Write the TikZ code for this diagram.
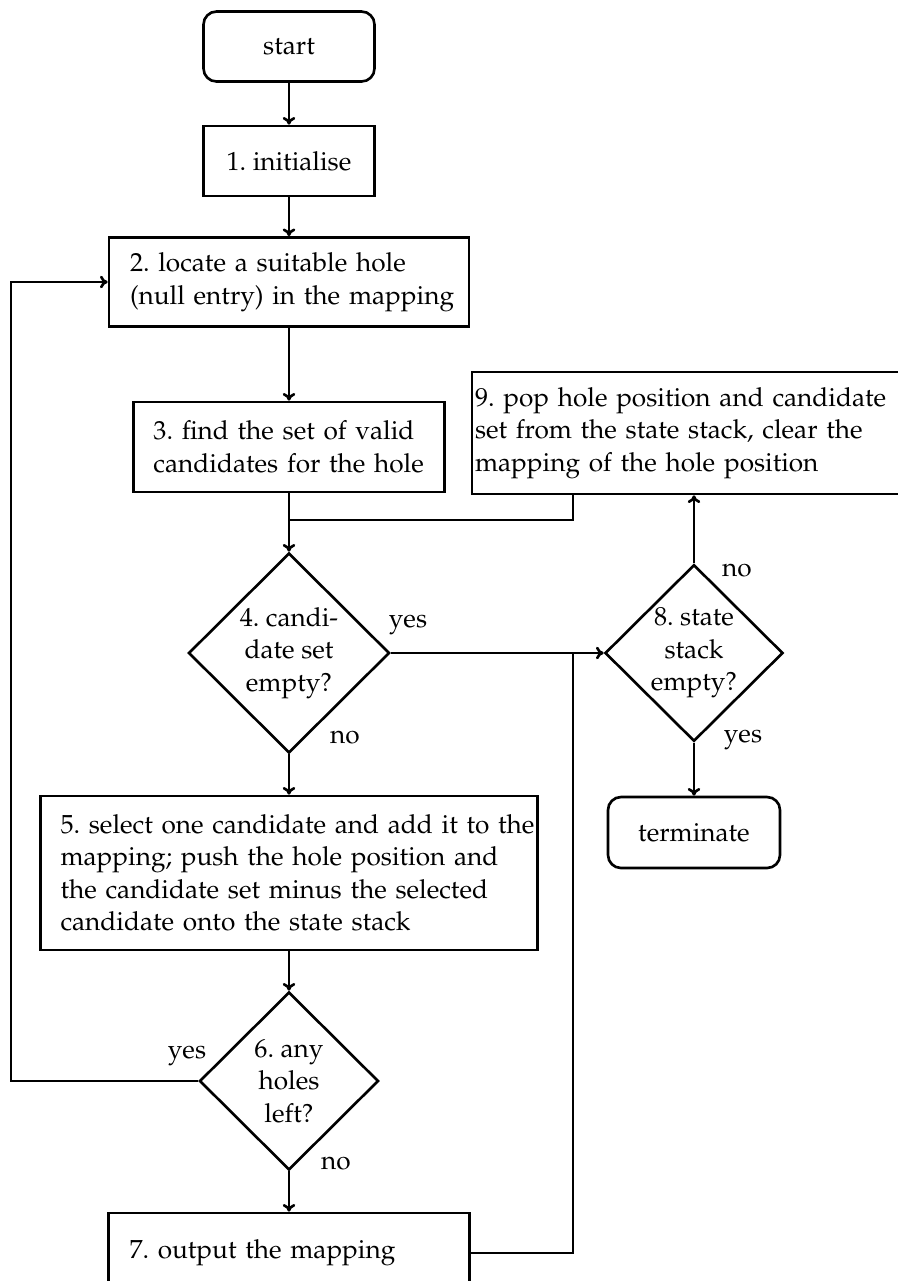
\documentclass[tikz,border=0pt]{standalone}
\usepackage[T1]{fontenc}
\usepackage{mathpazo}
\usetikzlibrary{arrows.meta,shapes.geometric}
\frenchspacing
\tikzset{
  every node/.style={font=\fontsize{7.45}{9.25}\selectfont},
  endbox/.style={rectangle, rounded corners=0.13cm, draw, align=center,
                 minimum width=1.71cm, minimum height=0.70cm},
  box/.style={rectangle, draw, align=left, inner xsep=0.2cm, inner ysep=0pt},
  decision/.style={diamond, draw, align=center, inner sep=0pt},
  arrow/.style={-{To[length=2.2pt,width=3.6pt]}},
  lbl/.style={inner sep=0pt}
}

\begin{document}
\begin{tikzpicture}[line width=0.75pt]
  \useasboundingbox (0,0) rectangle (8.97,-12.81);
  % main column
  \node[endbox] (start) at (2.89,-0.465) {start};
  \node[box, align=center, minimum width=1.71cm, minimum height=0.70cm] (init) at (2.89,-1.61) {1. initialise};
  \node[box, text width=3.18cm, inner xsep=0.21cm, minimum height=0.89cm] (locate) at (2.89,-2.82)
    {2. locate a suitable hole\\\mbox{(null entry) in the mapping}};
  \node[box, text width=2.71cm, minimum height=0.90cm] (find) at (2.89,-4.47)
    {3. find the set of valid\\\mbox{candidates for the hole}};
  \node[decision, minimum width=2.01cm, minimum height=2.00cm] (cempty) at (2.89,-6.53)
    {4. candi-\\date set\\empty?};
  \node[box, text width=4.57cm, minimum height=1.54cm] (select) at (2.89,-8.73)
    {\mbox{5. select one candidate and add it to the}\\mapping; push the hole position and\\the candidate set minus the selected\\candidate onto the state stack};
  \node[decision, minimum width=1.79cm, minimum height=1.78cm] (holes) at (2.89,-10.81)
    {6. any\\holes\\left?};
  \node[box, text width=3.19cm, inner xsep=0.21cm, minimum height=0.80cm] (output) at (2.89,-12.53)
    {7. output the mapping};
  % right column
  \node[box, text width=4.38cm, inner xsep=0.03cm, minimum height=1.22cm] (pop) at (6.94,-4.33)
    {\mbox{9. pop hole position and candidate}\\set from the state stack, clear the\\mapping of the hole position};
  \node[decision, minimum width=1.78cm, minimum height=1.76cm] (sempty) at (6.94,-6.53)
    {8. state\\stack\\empty?};
  \node[endbox, minimum width=1.72cm, minimum height=0.71cm] (term) at (6.94,-8.325) {terminate};
  % branch labels
  \node[lbl] (y4) at (4.08,-6.25) {yes};
  \node[lbl] (n4) at (3.45,-7.37) {no};
  \node[lbl] (n8) at (7.37,-5.70) {no};
  \node[lbl] (y8) at (7.43,-7.40) {yes};
  \node[lbl] (y6) at (1.87,-10.555) {yes};
  \node[lbl] (n6) at (3.36,-11.63) {no};
  % joints
  \coordinate (mx) at (5.73,-6.53);
  \coordinate (jn) at (2.89,-5.20);
  \coordinate (fb) at (0.11,-10.81);

  \draw[arrow] (start) -- (init);
  \draw[arrow] (init) -- (locate);
  \draw[arrow] (locate) -- (find);
  \draw[arrow] (find) -- (cempty);
  \draw (pop.south -| mx) |- (jn);
  \draw[arrow] (cempty) -- (sempty);
  \draw[arrow] (sempty) -- (pop);
  \draw[arrow] (sempty) -- (term);
  \draw[arrow] (cempty) -- (select);
  \draw[arrow] (select) -- (holes);
  \draw[arrow] (holes.west) -- (fb) |- (locate.west);
  \draw[arrow] (holes) -- (output);
  \draw (output.east) -| (mx);
\end{tikzpicture}
\end{document}
